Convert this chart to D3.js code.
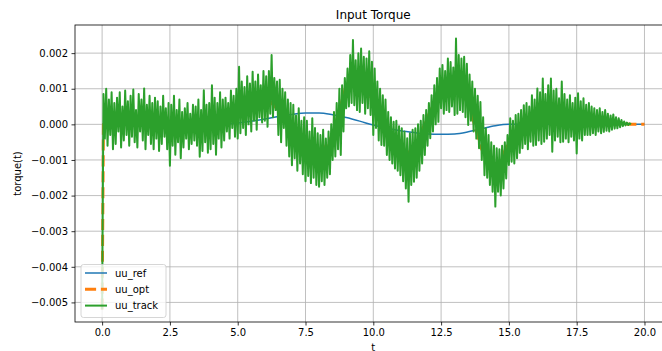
<!DOCTYPE html>
<html>
<head>
<meta charset="utf-8">
<script src="https://cdn.jsdelivr.net/npm/d3@7"></script>
<style>
  html, body { margin: 0; padding: 0; background: #fff; }
  svg { display: block; font-family: "DejaVu Sans", sans-serif; }
</style>
</head>
<body>
<svg id="chart" width="662" height="351"></svg>
<script>
// Input torque over time (values in units of 1e-5)
const UNIT = 1e-5;

// Reference torque, sampled every 0.5 s
const refTimes = d3.range(0, 20.001, 0.5);
const refValues = [
  0, 0, 0, 0, 0, 0, 0, 0, 0, 1,
  4, 9, 15, 22, 28, 32, 32, 27, 19, 9,
  -2, -11, -18, -23, -27, -28, -27, -21, -12, -4,
  0, 0, 0, 0, 0, 0, 0, 0, 0, 0, 0
];

// Optimised torque
const optTimes = [0, 0.05, 0.5, 1, 1.5, 2, 2.5, 3, 3.5, 4, 4.5, 5, 5.5, 6, 6.5, 7, 7.5, 8,
  8.5, 9, 9.5, 10, 10.5, 11, 11.5, 12, 12.5, 13, 13.5, 14, 14.5, 15, 15.5, 16, 16.5, 17,
  17.5, 18, 18.5, 19, 19.5, 20];
const optValues = [-520, 10, 10, 10, 5, 0, -10, -5, -5, 5, 20, 50, 65, 80, 40, -30, -75, -90,
  -30, 110, 120, 50, -30, -90, -70, 20, 100, 110, 60, -70, -130, -50, 0, 20, 30, 15,
  10, 10, 5, 2, 0, 0];

// Tracked torque, sampled every 0.05 s (one row per 0.5 s)
const trackStep = 0.05;
const trackValues = [
  -520, 85, -40, 100, -60, 70, -30, 90, -70, 60,
  -55, 75, -20, 90, -65, 50, -45, 95, -30, 65,
  -60, 80, -35, 98, -50, 40, -65, 85, -20, 70,
  -45, 101, -70, 55, -30, 80, -55, 60, -70, 75,
  -40, 65, -75, 50, -55, 80, -35, 45, -70, 60,
  -116, 55, -60, 80, -85, 40, -50, 70, -95, 35,
  -65, 45, -40, 60, -70, 30, -55, 55, -45, 50,
  -60, 70, -91, 40, -75, 96, -50, 55, -80, 60,
  -70, 110, -55, 75, -85, 60, -40, 90, -65, 70,
  -45, 75, -20, 60, -40, 95, -10, 80, -35, 100,
  -40, 162, -25, 120, -10, 105, -30, 135, 0, 115,
  -20, 148, 10, 120, -15, 140, 20, 110, 5, 150,
  10, 135, -7, 150, 30, 195, 20, 130, 40, 120,
  -30, 125, -50, 100, -10, 90, -60, 70, -90, 60,
  -115, 55, -95, 25, -130, 45, -110, 10, -140, 20,
  -160, 10, -145, -20, -165, 17, -150, -10, -170, -25,
  -175, -30, -160, -15, -170, -40, -150, -20, -140, 0,
  -100, 35, -90, 60, -70, 100, -86, 110, -20, 130,
  45, 157, 50, 195, 60, 237, 54, 180, 40, 200,
  35, 213, 60, 190, 30, 185, 45, 205, 26, 176,
  -30, 157, -10, 120, -45, 100, -58, 82, -60, 70,
  -86, 35, -100, 20, -110, 7, -124, 10, -130, -5,
  -143, -11, -160, -20, -180, -39, -217, -25, -170, -15,
  -161, -11, -150, 0, -130, 10, -110, 26, -86, 40,
  -60, 60, -39, 82, -20, 110, 0, 130, 7, 157,
  45, 167, 30, 150, 40, 185, 35, 175, 50, 160,
  26, 241, 30, 195, 40, 185, 35, 190, 20, 170,
  -2, 140, 10, 120, -20, 100, -40, 80, -67, 63,
  -100, 20, -143, -11, -150, -30, -170, -50, -189, -60,
  -231, -67, -189, -70, -200, -60, -180, -50, -152, -30,
  -114, 17, -105, 10, -110, 26, -95, 30, -80, 40,
  -67, 54, -55, 60, -70, 50, -49, 82, -60, 70,
  -58, 101, -45, 90, -55, 129, -49, 85, -40, 110,
  -30, 129, -77, 95, -45, 100, -35, 73, -50, 120,
  -49, 85, -40, 70, -50, 82, -35, 60, -45, 75,
  -82, 87, -40, 65, -45, 73, -30, 55, -30, 60,
  -30, 50, -25, 45, -30, 40, -20, 45, -25, 35,
  -21, 40, -18, 30, -20, 25, -15, 28, -12, 20,
  -11, 17, -8, 12, -5, 8, -3, 5, -2, 3,
  0
];

// Axis ticks
const xTicks = [0, 2.5, 5, 7.5, 10, 12.5, 15, 17.5, 20];
const yTicks = [-0.005, -0.004, -0.003, -0.002, -0.001, 0, 0.001, 0.002];

const seriesNames = ["uu_ref", "uu_opt", "uu_track"];
const seriesColors = ["#1f77b4", "#ff7f0e", "#2ca02c"];

const svg = d3.select("#chart");
const plot = { left: 75, top: 25, right: 671.6, bottom: 322 };

const x = d3.scaleLinear().domain([-1, 21]).range([plot.left, plot.right]);
const y = d3.scaleLinear().domain([-0.00555, 0.00279]).range([plot.bottom, plot.top]);

const fmtX = d3.format(".1f");
const fmtY = v => d3.format(".3f")(v).replace("-", "\u2212");

// grid
const grid = svg.append("g");
grid.selectAll(".gx").data(xTicks).join("line")
  .attr("x1", d => x(d)).attr("x2", d => x(d))
  .attr("y1", plot.top).attr("y2", plot.bottom)
  .attr("stroke", "#b0b0b0").attr("stroke-width", 0.8);
grid.selectAll(".gy").data(yTicks).join("line")
  .attr("x1", plot.left).attr("x2", plot.right)
  .attr("y1", d => y(d)).attr("y2", d => y(d))
  .attr("stroke", "#b0b0b0").attr("stroke-width", 0.8);

svg.append("clipPath").attr("id", "clip").append("rect")
  .attr("x", plot.left).attr("y", plot.top)
  .attr("width", plot.right - plot.left).attr("height", plot.bottom - plot.top);

const lines = svg.append("g").attr("clip-path", "url(#clip)");

const refData = refTimes.map((t, i) => [t, refValues[i] * UNIT]);
const optData = optTimes.map((t, i) => [t, optValues[i] * UNIT]);
const trackData = trackValues.map((v, i) => [i * trackStep, v * UNIT]);

lines.append("path").datum(refData)
  .attr("fill", "none").attr("stroke", seriesColors[0]).attr("stroke-width", 1.5)
  .attr("d", d3.line().x(d => x(d[0])).y(d => y(d[1])).curve(d3.curveMonotoneX));

lines.append("path").datum(optData)
  .attr("fill", "none").attr("stroke", seriesColors[1]).attr("stroke-width", 3)
  .attr("stroke-dasharray", "11.1,4.8")
  .attr("d", d3.line().x(d => x(d[0])).y(d => y(d[1])));

lines.append("path").datum(trackData)
  .attr("fill", "none").attr("stroke", seriesColors[2]).attr("stroke-width", 2)
  .attr("stroke-linejoin", "round")
  .attr("d", d3.line().x(d => x(d[0])).y(d => y(d[1])));

// axes
const xAxis = d3.axisBottom(x).tickValues(xTicks).tickFormat(fmtX).tickSize(3.5).tickPadding(3.5);
const yAxis = d3.axisLeft(y).tickValues(yTicks).tickFormat(fmtY).tickSize(3.5).tickPadding(3.5);

const gx = svg.append("g").attr("transform", `translate(0,${plot.bottom})`).call(xAxis);
const gy = svg.append("g").attr("transform", `translate(${plot.left},0)`).call(yAxis);
[gx, gy].forEach(g => {
  g.select(".domain").remove();
  g.selectAll(".tick line").attr("stroke", "#000").attr("stroke-width", 0.8);
  g.selectAll(".tick text").attr("fill", "#000")
    .style("font-family", "DejaVu Sans, sans-serif").style("font-size", "10px");
});

// spines
svg.append("rect")
  .attr("x", plot.left).attr("y", plot.top)
  .attr("width", plot.right - plot.left).attr("height", plot.bottom - plot.top)
  .attr("fill", "none").attr("stroke", "#000").attr("stroke-width", 0.8);

// title and labels
svg.append("text").attr("x", (plot.left + plot.right) / 2).attr("y", 19)
  .attr("text-anchor", "middle").style("font-size", "12px").text("Input Torque");
svg.append("text").attr("x", (plot.left + plot.right) / 2).attr("y", 351)
  .attr("text-anchor", "middle").style("font-size", "10px").text("t");
svg.append("text")
  .attr("transform", `translate(21,${(plot.top + plot.bottom) / 2}) rotate(-90)`)
  .attr("text-anchor", "middle").style("font-size", "10px").text("torque(t)");

// legend
const lg = svg.append("g").attr("transform", "translate(81,264.5)");
lg.append("rect").attr("width", 85).attr("height", 53).attr("rx", 2.5)
  .attr("fill", "#fff").attr("fill-opacity", 0.8)
  .attr("stroke", "#cccccc").attr("stroke-width", 0.8);
const entryStyles = [
  { w: 1.5, dash: null },
  { w: 3, dash: "11.1,4.8" },
  { w: 2, dash: null }
];
seriesNames.forEach((name, i) => {
  const row = lg.append("g").attr("transform", `translate(0,${8.5 + i * 16.3})`);
  row.append("line").attr("x1", 4).attr("x2", 26).attr("y1", 0).attr("y2", 0)
    .attr("stroke", seriesColors[i]).attr("stroke-width", entryStyles[i].w)
    .attr("stroke-dasharray", entryStyles[i].dash);
  row.append("text").attr("x", 34).attr("y", 3.6)
    .style("font-size", "10px").text(name);
});
</script>
</body>
</html>
